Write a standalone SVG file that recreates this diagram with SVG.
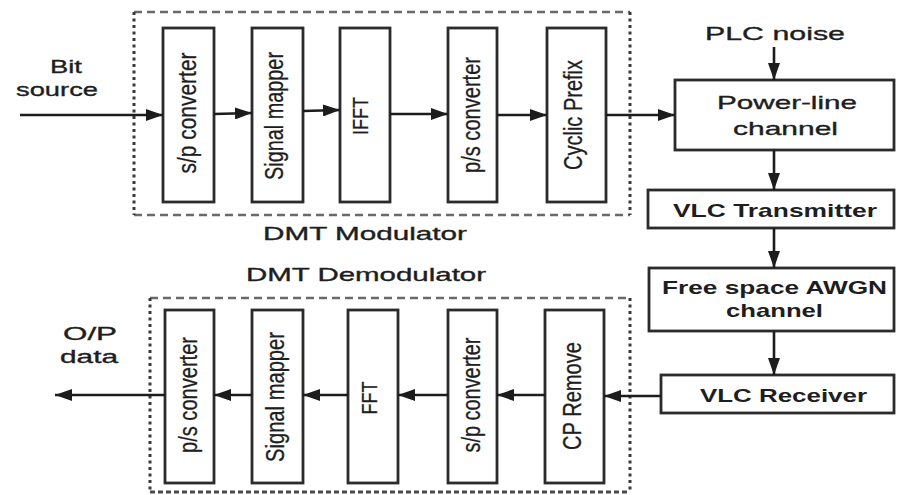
<svg xmlns="http://www.w3.org/2000/svg" width="897" height="495" viewBox="0 0 897 495">
  <defs>
    <style>
      .blk { fill: #ffffff; stroke: #2b2b2b; stroke-width: 2.8; }
      .wire { fill: none; stroke: #1c1c1c; stroke-width: 2.6; marker-end: url(#head); }
      .dash { fill: none; stroke: #6a6a6a; stroke-width: 2.4; stroke-dasharray: 8 5; }
      .dot { fill: none; stroke: #3a3a3a; stroke-width: 3; stroke-dasharray: 3 3.5; }
      .dense { fill: none; stroke: #4a4a4a; stroke-width: 3; stroke-dasharray: 5 3; }
      text { font-family: "Liberation Sans", Arial, sans-serif; fill: #1e1e1e; }
      .vt { font-size: 25px; text-anchor: middle; stroke: #1e1e1e; stroke-width: 0.3; }
      .vc { font-size: 22px; }
      .ht { font-size: 19px; stroke: #1e1e1e; stroke-width: 0.35; }
      .hb { font-size: 19px; font-weight: bold; }
    </style>
    <marker id="head" viewBox="0 0 17 12" refX="17" refY="6" markerWidth="17" markerHeight="12" markerUnits="userSpaceOnUse" orient="auto">
      <path d="M0,0 L17,6 L0,12 z" fill="#1c1c1c"/>
    </marker>
  </defs>
  <rect width="897" height="495" fill="#ffffff"/>

  <!-- DMT modulator frame -->
  <g id="modulator-frame">
    <line class="dash" x1="134" y1="12" x2="630" y2="12"/>
    <line class="dash" x1="134" y1="215" x2="630" y2="215"/>
    <line class="dot" x1="134" y1="12" x2="134" y2="215"/>
    <line class="dot" x1="630" y1="12" x2="630" y2="215"/>
    <text class="ht" x="263" y="240" textLength="204" lengthAdjust="spacingAndGlyphs">DMT Modulator</text>
  </g>

  <!-- DMT demodulator frame -->
  <g id="demodulator-frame">
    <line class="dash" x1="150" y1="298" x2="630" y2="298"/>
    <line class="dense" x1="150" y1="492" x2="630" y2="492"/>
    <line class="dot" x1="150" y1="298" x2="150" y2="492"/>
    <line class="dot" x1="630" y1="298" x2="630" y2="492"/>
    <text class="ht" x="246" y="281" textLength="240" lengthAdjust="spacingAndGlyphs">DMT Demodulator</text>
  </g>

  <!-- free labels -->
  <g id="bit-source">
    <text class="ht" x="50" y="73" textLength="32" lengthAdjust="spacingAndGlyphs">Bit</text>
    <text class="ht" x="16" y="96" textLength="82" lengthAdjust="spacingAndGlyphs">source</text>
  </g>
  <g id="output-data">
    <text class="ht" x="63" y="340" textLength="54" lengthAdjust="spacingAndGlyphs">O/P</text>
    <text class="ht" x="60" y="363" textLength="58" lengthAdjust="spacingAndGlyphs">data</text>
  </g>
  <g id="plc-noise">
    <text class="ht" x="705" y="40" font-size="20" textLength="140" lengthAdjust="spacingAndGlyphs">PLC noise</text>
  </g>

  <!-- modulator blocks -->
  <g id="mod-sp">
    <rect class="blk" x="163" y="28" width="51" height="174"/>
    <text class="vt" transform="translate(196,113) rotate(-90)" textLength="121" lengthAdjust="spacingAndGlyphs">s/p converter</text>
  </g>
  <g id="mod-mapper">
    <rect class="blk" x="252" y="28" width="51" height="174"/>
    <text class="vt" transform="translate(283,116) rotate(-90)" textLength="128" lengthAdjust="spacingAndGlyphs">Signal mapper</text>
  </g>
  <g id="mod-ifft">
    <rect class="blk" x="340" y="28" width="50" height="174"/>
    <text class="vt vc" transform="translate(368,116) rotate(-90)" textLength="38" lengthAdjust="spacingAndGlyphs">IFFT</text>
  </g>
  <g id="mod-ps">
    <rect class="blk" x="448" y="28" width="49" height="174"/>
    <text class="vt" transform="translate(480,115) rotate(-90)" textLength="116" lengthAdjust="spacingAndGlyphs">p/s converter</text>
  </g>
  <g id="mod-cp">
    <rect class="blk" x="547" y="28" width="59" height="174"/>
    <text class="vt" transform="translate(582,115) rotate(-90)" textLength="110" lengthAdjust="spacingAndGlyphs">Cyclic Prefix</text>
  </g>

  <!-- channel chain -->
  <g id="powerline">
    <rect class="blk" x="675" y="80" width="219" height="70"/>
    <text class="ht" x="717" y="109" font-size="21" textLength="140" lengthAdjust="spacingAndGlyphs">Power-line</text>
    <text class="ht" x="733" y="135" font-size="21" textLength="105" lengthAdjust="spacingAndGlyphs">channel</text>
  </g>
  <g id="vlc-tx">
    <rect class="blk" x="648" y="190" width="246" height="38"/>
    <text class="hb" x="673" y="217" textLength="204" lengthAdjust="spacingAndGlyphs">VLC Transmitter</text>
  </g>
  <g id="awgn">
    <rect class="blk" x="649" y="268" width="245" height="63"/>
    <text class="hb" x="662" y="294" font-size="18" textLength="225" lengthAdjust="spacingAndGlyphs">Free space AWGN</text>
    <text class="hb" x="726" y="317" font-size="18" textLength="97" lengthAdjust="spacingAndGlyphs">channel</text>
  </g>
  <g id="vlc-rx">
    <rect class="blk" x="661" y="375" width="233" height="38"/>
    <text class="hb" x="700" y="402" textLength="167" lengthAdjust="spacingAndGlyphs">VLC Receiver</text>
  </g>

  <!-- demodulator blocks -->
  <g id="demod-ps">
    <rect class="blk" x="165" y="310" width="49" height="173"/>
    <text class="vt" transform="translate(197,395) rotate(-90)" textLength="116" lengthAdjust="spacingAndGlyphs">p/s converter</text>
  </g>
  <g id="demod-mapper">
    <rect class="blk" x="252" y="310" width="51" height="173"/>
    <text class="vt" transform="translate(284,397) rotate(-90)" textLength="130" lengthAdjust="spacingAndGlyphs">Signal mapper</text>
  </g>
  <g id="demod-fft">
    <rect class="blk" x="348" y="310" width="50" height="173"/>
    <text class="vt vc" transform="translate(377,398) rotate(-90)" textLength="33" lengthAdjust="spacingAndGlyphs">FFT</text>
  </g>
  <g id="demod-sp">
    <rect class="blk" x="448" y="310" width="49" height="173"/>
    <text class="vt" transform="translate(480,395) rotate(-90)" textLength="115" lengthAdjust="spacingAndGlyphs">s/p converter</text>
  </g>
  <g id="demod-cprm">
    <rect class="blk" x="545" y="310" width="59" height="173"/>
    <text class="vt" transform="translate(581,396) rotate(-90)" textLength="108" lengthAdjust="spacingAndGlyphs">CP Remove</text>
  </g>

  <!-- connectors -->
  <g id="connectors">
    <line class="wire" x1="20" y1="115" x2="163" y2="115"/>
    <line class="wire" x1="214" y1="114" x2="252" y2="113"/>
    <line class="wire" x1="303" y1="111" x2="340" y2="110"/>
    <line class="wire" x1="390" y1="114" x2="448" y2="114"/>
    <line class="wire" x1="497" y1="115" x2="547" y2="115"/>
    <line class="wire" x1="606" y1="115" x2="675" y2="115"/>
    <line class="wire" x1="774" y1="47" x2="774" y2="80"/>
    <line class="wire" x1="774" y1="150" x2="774" y2="190"/>
    <line class="wire" x1="774" y1="228" x2="774" y2="268"/>
    <line class="wire" x1="774" y1="331" x2="774" y2="375"/>
    <line class="wire" x1="661" y1="396" x2="604" y2="396"/>
    <line class="wire" x1="545" y1="395" x2="497" y2="395"/>
    <line class="wire" x1="448" y1="395" x2="398" y2="395"/>
    <line class="wire" x1="348" y1="395" x2="303" y2="395"/>
    <line class="wire" x1="252" y1="395" x2="214" y2="395"/>
    <line class="wire" x1="165" y1="395" x2="55" y2="395"/>
  </g>
</svg>
